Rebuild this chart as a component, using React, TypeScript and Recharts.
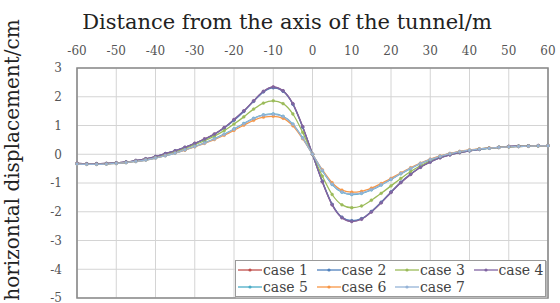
import React from "react";
import { LineChart, Line, XAxis, YAxis, CartesianGrid, ReferenceArea, Legend, Label } from "recharts";

const distances = [
  -60, -57.5, -55, -52.5, -50, -47.5, -45, -42.5, -40, -37.5, -35, -32.5, -30, -27.5, -25, -22.5, -20, -17.5, -15, -12.5, -10, -7.5, -5, -2.5,
  0, 2.5, 5, 7.5, 10, 12.5, 15, 17.5, 20, 22.5, 25, 27.5, 30, 32.5, 35, 37.5, 40, 42.5, 45, 47.5, 50, 52.5, 55, 57.5, 60,
];

const case1 = [
  -0.32, -0.33, -0.33, -0.32, -0.3, -0.27, -0.22, -0.16, -0.08, 0.02, 0.12, 0.24, 0.38, 0.53, 0.7, 0.92, 1.2, 1.5, 1.85, 2.18, 2.33, 2.2, 1.75, 0.95,
  0, -0.95, -1.75, -2.2, -2.33, -2.25, -2.0, -1.68, -1.32, -0.98, -0.7, -0.45, -0.27, -0.12, -0.02, 0.06, 0.12, 0.17, 0.21, 0.24, 0.27, 0.28, 0.29, 0.3, 0.3,
];
const case2 = [
  -0.32, -0.33, -0.33, -0.32, -0.3, -0.27, -0.22, -0.16, -0.08, 0.02, 0.12, 0.24, 0.37, 0.52, 0.69, 0.91, 1.18, 1.49, 1.84, 2.17, 2.31, 2.19, 1.74, 0.94,
  0, -0.94, -1.74, -2.19, -2.31, -2.24, -1.99, -1.67, -1.31, -0.97, -0.69, -0.45, -0.27, -0.12, -0.02, 0.06, 0.12, 0.17, 0.21, 0.24, 0.27, 0.28, 0.29, 0.3, 0.3,
];
const case3 = [
  -0.33, -0.34, -0.34, -0.33, -0.31, -0.28, -0.24, -0.18, -0.11, -0.02, 0.08, 0.2, 0.33, 0.47, 0.63, 0.82, 1.05, 1.3, 1.57, 1.78, 1.86, 1.76, 1.4, 0.76,
  0, -0.76, -1.4, -1.76, -1.86, -1.8, -1.6, -1.36, -1.1, -0.84, -0.6, -0.4, -0.23, -0.1, 0.0, 0.07, 0.13, 0.18, 0.21, 0.24, 0.26, 0.28, 0.29, 0.29, 0.3,
];
const case4 = [
  -0.32, -0.33, -0.33, -0.32, -0.3, -0.27, -0.22, -0.16, -0.08, 0.02, 0.12, 0.24, 0.38, 0.53, 0.7, 0.93, 1.21, 1.51, 1.86, 2.19, 2.34, 2.21, 1.76, 0.96,
  0, -0.96, -1.76, -2.21, -2.34, -2.26, -2.01, -1.69, -1.33, -0.99, -0.7, -0.45, -0.27, -0.12, -0.02, 0.06, 0.12, 0.17, 0.21, 0.24, 0.27, 0.28, 0.29, 0.3, 0.3,
];
const case5 = [
  -0.34, -0.35, -0.35, -0.34, -0.32, -0.29, -0.25, -0.2, -0.13, -0.05, 0.04, 0.15, 0.27, 0.4, 0.54, 0.7, 0.88, 1.07, 1.25, 1.37, 1.4, 1.32, 1.05, 0.57,
  0, -0.57, -1.05, -1.32, -1.4, -1.36, -1.24, -1.07, -0.88, -0.68, -0.5, -0.33, -0.19, -0.07, 0.02, 0.09, 0.14, 0.18, 0.21, 0.24, 0.26, 0.27, 0.28, 0.29, 0.29,
];
const case6 = [
  -0.34, -0.35, -0.35, -0.34, -0.32, -0.29, -0.25, -0.2, -0.13, -0.05, 0.04, 0.14, 0.26, 0.38, 0.51, 0.66, 0.83, 1.01, 1.18, 1.29, 1.32, 1.25, 0.99, 0.54,
  0, -0.54, -0.99, -1.25, -1.32, -1.29, -1.18, -1.02, -0.84, -0.65, -0.47, -0.31, -0.17, -0.06, 0.03, 0.1, 0.15, 0.19, 0.22, 0.24, 0.26, 0.27, 0.28, 0.29, 0.29,
];
const case7 = [
  -0.34, -0.35, -0.35, -0.34, -0.32, -0.29, -0.25, -0.2, -0.13, -0.05, 0.04, 0.15, 0.27, 0.39, 0.53, 0.69, 0.87, 1.06, 1.24, 1.36, 1.39, 1.31, 1.04, 0.56,
  0, -0.56, -1.04, -1.31, -1.39, -1.35, -1.23, -1.06, -0.87, -0.67, -0.49, -0.32, -0.18, -0.07, 0.02, 0.09, 0.14, 0.18, 0.21, 0.24, 0.26, 0.27, 0.28, 0.29, 0.29,
];

const seriesNames = ["case 1", "case 2", "case 3", "case 4", "case 5", "case 6", "case 7"];
const seriesValues = [case1, case2, case3, case4, case5, case6, case7];
const seriesColors = ["#c0504d", "#4f81bd", "#9bbb59", "#8064a2", "#4bacc6", "#f79646", "#95b3d7"];

const xTicks = [-60, -50, -40, -30, -20, -10, 0, 10, 20, 30, 40, 50, 60];
const yTicks = [3, 2, 1, 0, -1, -2, -3, -4, -5];

const data = distances.map((d, i) => {
  const row: Record<string, number> = { x: d };
  seriesNames.forEach((n, k) => {
    row[n] = seriesValues[k][i];
  });
  return row;
});

const FONT = "DejaVu Serif";

const LegendContent = () => (
  <div
    style={{
      width: 311,
      height: 37,
      boxSizing: "border-box",
      border: "1px solid #9a9a9a",
      boxShadow: "1px 1px 1px #bbb",
      background: "#fff",
      display: "flex",
      flexWrap: "wrap",
      alignContent: "center",
      padding: "0 0 0 2px",
      fontFamily: FONT,
      fontSize: 14,
      lineHeight: "16px",
      color: "#444",
    }}
  >
    {seriesNames.map((n, k) => (
      <div key={n} style={{ width: k % 4 === 3 ? 70 : 78.5, height: 17, display: "flex", alignItems: "center", overflow: "visible" }}>
        <svg width={24} height={10} style={{ marginRight: 1, flex: "none" }}>
          <line x1={0} y1={5} x2={24} y2={5} stroke={seriesColors[k]} strokeWidth={1.3} />
          <circle cx={12} cy={5} r={1.6} fill={seriesColors[k]} />
        </svg>
        <span style={{ whiteSpace: "nowrap" }}>{n}</span>
      </div>
    ))}
  </div>
);

export default function App() {
  return (
    <div style={{ position: "absolute", left: 0, top: 0, width: 560, height: 303, background: "#fff" }}>
      <LineChart width={560} height={303} data={data} margin={{ top: 38, right: 12, bottom: 5, left: 17 }}>
        <CartesianGrid stroke="#d4d4d4" strokeWidth={1} verticalValues={xTicks} horizontalValues={yTicks} />
        <XAxis
          dataKey="x"
          type="number"
          orientation="top"
          domain={[-60, 60]}
          ticks={xTicks}
          height={30}
          axisLine={false}
          tickLine={false}
          tickSize={0}
          tickMargin={13}
          tick={{ fontSize: 12, fill: "#555", fontFamily: FONT }}
          interval={0}
        >
          <Label
            content={() => (
              <text x={287} y={29} textAnchor="middle" fontFamily={FONT} fontSize={21} fill="#222">
                Distance from the axis of the tunnel/m
              </text>
            )}
          />
        </XAxis>
        <YAxis
          type="number"
          domain={[-5, 3]}
          ticks={yTicks}
          width={60}
          axisLine={false}
          tickLine={false}
          tickSize={0}
          tickMargin={15}
          tick={{ fontSize: 12, fill: "#555", fontFamily: FONT }}
          interval={0}
        >
          <Label
            content={() => (
              <text
                x={0}
                y={0}
                transform="translate(19 160) rotate(-90)"
                textAnchor="middle"
                fontFamily={FONT}
                fontSize={20}
                fill="#222"
              >
                horizontal displacement/cm
              </text>
            )}
          />
        </YAxis>
        <ReferenceArea x1={-60} x2={60} y1={-5} y2={3} fill="none" stroke="#8a8a8a" strokeWidth={1.6} ifOverflow="visible" />
        {seriesNames.map((n, k) => (
          <Line
            key={n}
            dataKey={n}
            type="monotone"
            stroke={seriesColors[k]}
            strokeWidth={1.3}
            dot={{ r: 1.4, fill: seriesColors[k], stroke: seriesColors[k], strokeWidth: 0.5 }}
            isAnimationActive={false}
          />
        ))}
        <Legend
          layout="horizontal"
          verticalAlign="middle"
          align="center"
          content={LegendContent}
          wrapperStyle={{ left: 235, top: 260, width: 311, height: 37 }}
        />
      </LineChart>
    </div>
  );
}
